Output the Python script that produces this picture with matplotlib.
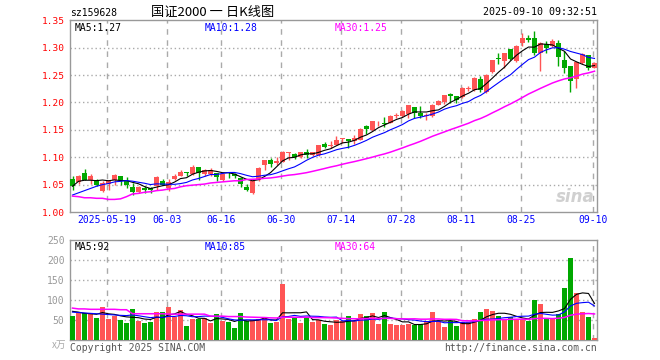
import matplotlib
matplotlib.use('Agg')
import numpy as np
import pandas as pd
from matplotlib import pyplot as plt

# daily candles 2025-05-09 .. 2025-09-10 (88 sessions)
opens = [1.061, 1.055, 1.071, 1.059, 1.059, 1.039, 1.052, 1.059, 1.065, 1.056,
         1.045, 1.037, 1.044, 1.043, 1.047, 1.057, 1.044, 1.060, 1.066, 1.072,
         1.070, 1.083, 1.070, 1.069, 1.071, 1.059, 1.072, 1.070, 1.062, 1.046,
         1.035, 1.058, 1.086, 1.095, 1.089, 1.092, 1.108, 1.106, 1.100, 1.109,
         1.104, 1.104, 1.124, 1.121, 1.123, 1.134, 1.133, 1.129, 1.132, 1.157,
         1.149, 1.164, 1.163, 1.163, 1.175, 1.175, 1.179, 1.191, 1.181, 1.175,
         1.175, 1.195, 1.201, 1.215, 1.211, 1.210, 1.224, 1.223, 1.243, 1.220,
         1.255, 1.281, 1.275, 1.297, 1.275, 1.309, 1.318, 1.317, 1.290, 1.306,
         1.303, 1.309, 1.278, 1.266, 1.242, 1.272, 1.286, 1.263]
highs = [1.065, 1.068, 1.078, 1.070, 1.060, 1.057, 1.059, 1.069, 1.066, 1.064,
         1.053, 1.048, 1.047, 1.045, 1.065, 1.061, 1.060, 1.069, 1.076, 1.073,
         1.085, 1.083, 1.079, 1.080, 1.072, 1.071, 1.073, 1.071, 1.063, 1.051,
         1.058, 1.082, 1.095, 1.098, 1.101, 1.111, 1.110, 1.108, 1.110, 1.115,
         1.110, 1.123, 1.128, 1.130, 1.138, 1.136, 1.134, 1.141, 1.153, 1.158,
         1.167, 1.166, 1.173, 1.177, 1.180, 1.186, 1.196, 1.192, 1.193, 1.181,
         1.197, 1.205, 1.214, 1.217, 1.212, 1.228, 1.230, 1.247, 1.248, 1.252,
         1.278, 1.291, 1.291, 1.298, 1.304, 1.327, 1.324, 1.331, 1.310, 1.312,
         1.315, 1.314, 1.294, 1.266, 1.274, 1.290, 1.287, 1.273]
lows = [1.040, 1.052, 1.058, 1.052, 1.047, 1.037, 1.040, 1.050, 1.050, 1.044,
        1.031, 1.035, 1.034, 1.034, 1.040, 1.049, 1.038, 1.058, 1.065, 1.066,
        1.068, 1.058, 1.066, 1.066, 1.056, 1.057, 1.062, 1.062, 1.046, 1.038,
        1.032, 1.057, 1.077, 1.082, 1.085, 1.091, 1.095, 1.097, 1.098, 1.098,
        1.102, 1.103, 1.116, 1.117, 1.122, 1.126, 1.117, 1.124, 1.131, 1.142,
        1.147, 1.157, 1.156, 1.162, 1.172, 1.174, 1.172, 1.172, 1.171, 1.168,
        1.174, 1.195, 1.198, 1.199, 1.199, 1.208, 1.221, 1.221, 1.220, 1.218,
        1.253, 1.270, 1.263, 1.278, 1.273, 1.303, 1.310, 1.286, 1.257, 1.291,
        1.301, 1.266, 1.254, 1.220, 1.226, 1.270, 1.260, 1.262]
closes = [1.047, 1.065, 1.059, 1.065, 1.050, 1.053, 1.058, 1.067, 1.059, 1.050,
          1.037, 1.045, 1.041, 1.041, 1.063, 1.050, 1.054, 1.065, 1.073, 1.071,
          1.082, 1.072, 1.077, 1.077, 1.063, 1.070, 1.071, 1.066, 1.052, 1.040,
          1.056, 1.081, 1.095, 1.087, 1.093, 1.110, 1.109, 1.100, 1.109, 1.104,
          1.109, 1.122, 1.119, 1.123, 1.132, 1.135, 1.129, 1.135, 1.152, 1.152,
          1.166, 1.165, 1.160, 1.176, 1.178, 1.184, 1.195, 1.181, 1.175, 1.178,
          1.196, 1.202, 1.213, 1.212, 1.205, 1.227, 1.227, 1.245, 1.223, 1.251,
          1.277, 1.280, 1.291, 1.280, 1.303, 1.318, 1.314, 1.290, 1.309, 1.300,
          1.312, 1.283, 1.263, 1.239, 1.274, 1.289, 1.263, 1.272]
# volume, 10k
volumes = [61, 69, 68, 69, 56, 83, 53, 61, 51, 43,
           78, 48, 44, 46, 71, 71, 83, 57, 76, 36,
           53, 52, 56, 44, 65, 48, 46, 31, 68, 47,
           51, 54, 57, 44, 46, 141, 53, 58, 44, 57,
           45, 50, 41, 37, 51, 47, 61, 47, 66, 61,
           68, 41, 71, 41, 38, 38, 41, 38, 41, 47,
           71, 47, 33, 47, 36, 45, 45, 53, 71, 78,
           73, 61, 53, 58, 53, 53, 48, 101, 90, 56,
           52, 66, 130, 205, 118, 70, 59, 6]

# moving-average values at the left edge (window reaches before first candle)
ma5_head = [1.047, 1.056, 1.058, 1.058]
ma10_head = [1.031, 1.035, 1.039, 1.043, 1.047, 1.050, 1.052, 1.055, 1.056]
ma30_head = [1.029, 1.028, 1.026, 1.026, 1.025, 1.025, 1.023, 1.023, 1.024, 1.028,
             1.033, 1.034, 1.036, 1.037, 1.039, 1.040, 1.042, 1.043, 1.046, 1.048,
             1.049, 1.050, 1.051, 1.053, 1.054, 1.055, 1.056, 1.057, 1.057]
vma5_head = [72, 70, 67, 66]
vma10_head = [70, 69, 68, 67, 66, 65, 64, 63, 62]
vma30_head = [80, 78, 78, 77, 77, 77, 77, 77, 76, 76,
              66, 66, 66, 66, 66, 66, 65, 65, 65, 65,
              65, 65, 65, 60, 60, 60, 59, 59, 59]

date_idx = [6, 16, 25, 35, 45, 55, 65, 75, 87]
date_labels = ['2025-05-19', '06-03', '06-16', '06-30', '07-14', '07-28', '08-11', '08-25', '09-10']
price_ticks = [1.00, 1.05, 1.10, 1.15, 1.20, 1.25, 1.30, 1.35]
vol_ticks = [50, 100, 150, 200, 250]

RED = '#ff5555'
GREEN = '#00a800'
MONO = 'DejaVu Sans Mono'
CJK = ['Noto Sans CJK SC', 'DejaVu Sans']


def moving(values, n, head):
    s = pd.Series(values, dtype=float).rolling(n).mean().to_numpy()
    s[:n - 1] = head
    return s


def style_ax(ax):
    for sp in ax.spines.values():
        sp.set_color('#999999')
        sp.set_linewidth(1)
    ax.tick_params(length=0)
    ax.set_xlim(-0.417, 87.417)
    for i in date_idx:
        ax.axvline(i - 0.3, color='#aaaaaa', lw=1, ls=(0, (4, 4)), zorder=0)


W, H = 660, 360
fig = plt.figure(figsize=(6.6, 3.6), dpi=100)
ax = fig.add_axes([70 / W, 148 / H, 527 / W, 191.7 / H])
axv = fig.add_axes([70 / W, 19.7 / H, 527 / W, 100.6 / H])

x = np.arange(len(closes))
o, h, l, c = map(np.array, (opens, highs, lows, closes))
colors = [RED if cc >= oo else GREEN for oo, cc in zip(o, c)]

# price panel
style_ax(ax)
ax.set_ylim(1.00, 1.35)
for p in price_ticks[1:-1]:
    ax.axhline(p, color='#aaaaaa', lw=1, ls=(0, (1, 2)), zorder=0)
ax.vlines(x, l, h, colors=colors, lw=1, zorder=2)
body = np.maximum(np.abs(c - o), 0.0012)
ax.bar(x, body, bottom=np.minimum(o, c), width=0.8, color=colors, zorder=3)
ax.plot(x, moving(closes, 5, ma5_head), color='black', lw=0.8, zorder=4)
ax.plot(x, moving(closes, 10, ma10_head), color='#0000ff', lw=0.8, zorder=4)
ax.plot(x, moving(closes, 30, ma30_head), color='#ff00ff', lw=1.1, zorder=4)
ax.set_yticks(price_ticks)
ax.set_yticklabels([f'{p:.2f}' for p in price_ticks], color='#ff0000', fontfamily=MONO, fontsize=6.8)
ax.set_xticks([i - 0.3 for i in date_idx])
ax.set_xticklabels(date_labels, color='#0000ff', fontfamily=MONO, fontsize=7)
ax.tick_params(axis='x', pad=2)
ax.tick_params(axis='y', pad=4)
ax.text(5 / 527, 0.985, 'MA5:1.27', transform=ax.transAxes, va='top', ha='left',
        fontfamily=MONO, fontsize=7, color='black')
ax.text(135 / 527, 0.985, 'MA10:1.28', transform=ax.transAxes, va='top', ha='left',
        fontfamily=MONO, fontsize=7, color='#0000ff')
ax.text(265 / 527, 0.985, 'MA30:1.25', transform=ax.transAxes, va='top', ha='left',
        fontfamily=MONO, fontsize=7, color='#ff00ff')
ax.text(0.995, 0.03, 'sina', transform=ax.transAxes, ha='right', va='bottom',
        fontsize=12, fontweight='bold', fontstyle='italic', color='#d0d0d0', zorder=1)

# volume panel
style_ax(axv)
axv.set_ylim(0, 250)
for v in vol_ticks[:-1]:
    axv.axhline(v, color='#aaaaaa', lw=1, ls=(0, (1, 2)), zorder=0)
axv.bar(x, volumes, width=0.82, color=colors, zorder=3)
axv.plot(x, moving(volumes, 5, vma5_head), color='black', lw=0.8, zorder=4)
axv.plot(x, moving(volumes, 10, vma10_head), color='#0000ff', lw=0.8, zorder=4)
axv.plot(x, moving(volumes, 30, vma30_head), color='#ff00ff', lw=1.1, zorder=4)
axv.set_yticks(vol_ticks)
axv.set_yticklabels([str(v) for v in vol_ticks], color='#999999', fontfamily=MONO, fontsize=7)
axv.tick_params(axis='y', pad=4)
axv.set_xticks([])
axv.text(5 / 527, 0.975, 'MA5:92', transform=axv.transAxes, va='top', ha='left',
         fontfamily=MONO, fontsize=7, color='black')
axv.text(135 / 527, 0.975, 'MA10:85', transform=axv.transAxes, va='top', ha='left',
         fontfamily=MONO, fontsize=7, color='#0000ff')
axv.text(265 / 527, 0.975, 'MA30:64', transform=axv.transAxes, va='top', ha='left',
         fontfamily=MONO, fontsize=7, color='#ff00ff')

# header / footer texts
fig.text(70 / W, 1 - 13 / H, 'sz159628', ha='left', va='center', fontfamily=MONO, fontsize=7)
fig.text(213 / W, 1 - 12 / H, '国证2000 一 日K线图', ha='center', va='center', family=CJK, fontsize=9.5)
fig.text(597 / W, 1 - 12 / H, '2025-09-10 09:32:51', ha='right', va='center', fontfamily=MONO, fontsize=7.2)
fig.text(66 / W, 1 - 345 / H, 'x万', ha='right', va='center', family=CJK, fontsize=7, color='#aaaaaa')
fig.text(70 / W, 1 - 348 / H, 'Copyright 2025 SINA.COM', ha='left', va='center',
         fontfamily=MONO, fontsize=7, color='#555555')
fig.text(597 / W, 1 - 348 / H, 'http://finance.sina.com.cn', ha='right', va='center',
         fontfamily=MONO, fontsize=7, color='#555555')

fig.savefig('out.png', dpi=100)
